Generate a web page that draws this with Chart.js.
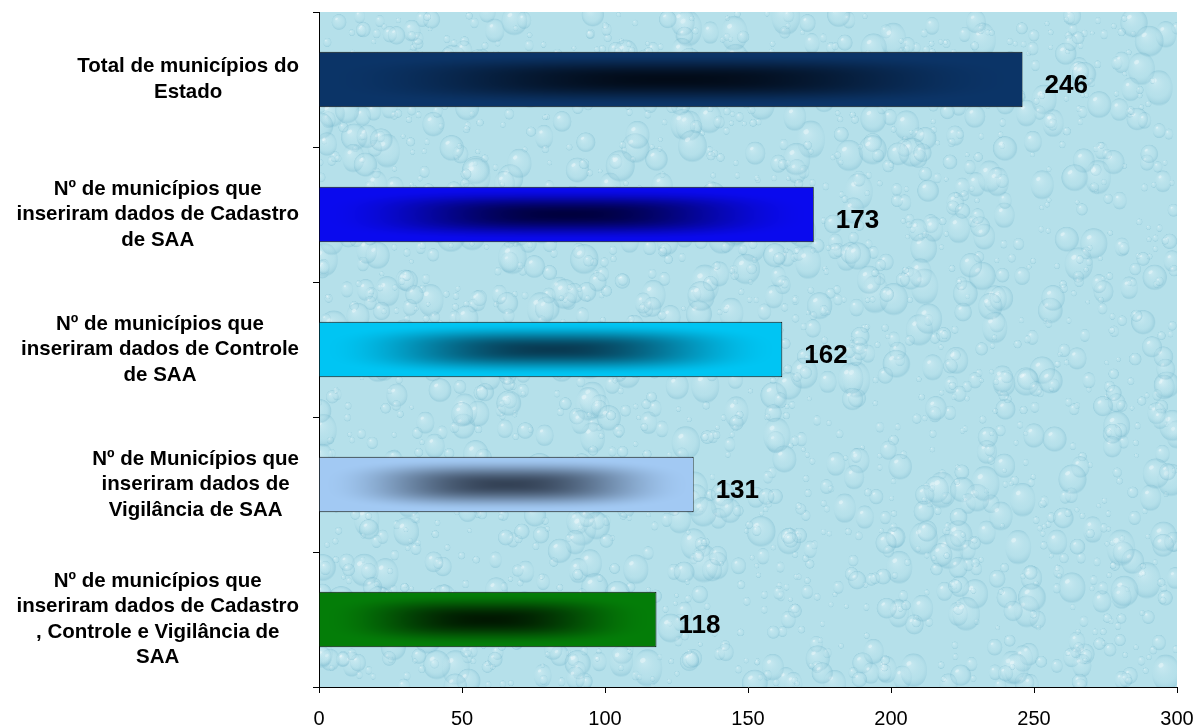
<!DOCTYPE html>
<html>
<head>
<meta charset="utf-8">
<script src="https://cdn.jsdelivr.net/npm/chart.js@4.4.1/dist/chart.umd.min.js"></script>
<style>
html,body{margin:0;padding:0;background:#ffffff;}
#wrap{width:1196px;height:728px;position:relative;}
</style>
</head>
<body>
<div id="wrap"><canvas id="c" width="1196" height="728"></canvas></div>
<script>
// ---- data ----
const categories = [
  ["Total de municípios do", "Estado"],
  ["Nº de municípios que", "inseriram dados de Cadastro", "de SAA"],
  ["Nº de municípios que", "inseriram dados de Controle", "de SAA"],
  ["Nº de Municípios que", "inseriram dados de", "Vigilância de SAA"],
  ["Nº de municípios que", "inseriram dados de Cadastro", ", Controle e Vigilância de", "SAA"]
];
const values = [246, 173, 162, 131, 118];
const xTicks = [0, 50, 100, 150, 200, 250, 300];
const barColors = ["#0b3467", "#0a0aee", "#00c5f3", "#a2c9f3", "#047d08"];
const centerColors = ["#020b18", "#00003e", "#083a52", "#344256", "#011801"];

// ---- helpers ----
function hexToRgb(h){h=h.replace('#','');return [parseInt(h.substr(0,2),16),parseInt(h.substr(2,2),16),parseInt(h.substr(4,2),16)];}
function hash(n){const s=Math.sin(n*127.1+311.7)*43758.5453;return s-Math.floor(s);}

const FONT = "'Liberation Sans', Arial, sans-serif";

const backgroundPlugin = {
  id:'waterBg',
  beforeDraw(chart){
    const {ctx, chartArea:a} = chart;
    ctx.save();
    ctx.beginPath(); ctx.rect(a.left, a.top, a.right-a.left, a.bottom-a.top); ctx.clip();
    ctx.fillStyle = '#b5e0ea';
    ctx.fillRect(a.left, a.top, a.right-a.left, a.bottom-a.top);
    const w = a.right-a.left, h = a.bottom-a.top;
    for(let i=0;i<2200;i++){
      const x = a.left + hash(i)*w;
      const y = a.top + hash(i+5000)*h;
      const r = 2.5 + Math.pow(hash(i+9000),2.5)*12;
      const ry = r*(1+hash(i+13000)*0.4);
      const g = ctx.createRadialGradient(x-r*0.3, y-ry*0.35, r*0.1, x, y, Math.max(r,ry));
      g.addColorStop(0,'rgba(228,246,250,0.38)');
      g.addColorStop(0.6,'rgba(185,225,235,0.15)');
      g.addColorStop(0.9,'rgba(115,180,202,0.32)');
      g.addColorStop(1,'rgba(115,180,202,0)');
      ctx.fillStyle = g;
      ctx.beginPath(); ctx.ellipse(x, y, r, ry, 0, 0, Math.PI*2); ctx.fill();
      ctx.fillStyle = 'rgba(255,255,255,0.35)';
      ctx.beginPath(); ctx.ellipse(x-r*0.35, y-ry*0.4, r*0.2, ry*0.12, -0.6, 0, Math.PI*2); ctx.fill();
    }
    ctx.restore();
  }
};

const barGradientPlugin = {
  id:'barGrad',
  afterDatasetsDraw(chart){
    const {ctx} = chart;
    const meta = chart.getDatasetMeta(0);
    meta.data.forEach((el, i) => {
      const left = Math.round(Math.min(el.base, el.x)) + 1;
      const right = Math.round(Math.max(el.base, el.x)) - 1;
      const top = Math.round(el.y - el.height/2) + 1;
      const bottom = Math.round(el.y + el.height/2) - 1;
      const W = right-left, H = bottom-top;
      if(W<=0||H<=0) return;
      const off = document.createElement('canvas');
      off.width = W; off.height = H;
      const octx = off.getContext('2d');
      const img = octx.createImageData(W, H);
      const b = hexToRgb(barColors[i]), c = hexToRgb(centerColors[i]);
      const hw = W/2, hh = H/2;
      for(let yy=0; yy<H; yy++){
        for(let xx=0; xx<W; xx++){
          const nx = Math.abs(xx+0.5-hw)/hw, ny = Math.abs(yy+0.5-hh)/hh;
          const t = Math.min(1, Math.pow(Math.pow(nx,3)+Math.pow(ny,3), 1/3));
          const f = Math.pow(1-t*t, 2.2);
          const k = (yy*W+xx)*4;
          img.data[k]   = b[0]+(c[0]-b[0])*f;
          img.data[k+1] = b[1]+(c[1]-b[1])*f;
          img.data[k+2] = b[2]+(c[2]-b[2])*f;
          img.data[k+3] = 255;
        }
      }
      octx.putImageData(img, 0, 0);
      ctx.drawImage(off, left, top);
    });
    // value labels
    ctx.save();
    ctx.fillStyle = '#000';
    ctx.font = "bold 26px " + FONT;
    ctx.textAlign = 'left';
    ctx.textBaseline = 'alphabetic';
    meta.data.forEach((el, i) => {
      ctx.fillText(String(values[i]), el.x + 22, el.y + 13);
    });
    ctx.restore();
  }
};

const categoryLabelPlugin = {
  id:'catLabels',
  afterDraw(chart){
    const {ctx} = chart;
    const yScale = chart.scales.y;
    ctx.save();
    ctx.fillStyle = '#000';
    ctx.font = "bold 20.5px " + FONT;
    ctx.textAlign = 'center';
    ctx.textBaseline = 'middle';
    const lh = 25.5, rightEdge = 299;
    categories.forEach((lines, i) => {
      const yc = yScale.getPixelForValue(i);
      const maxW = Math.max(...lines.map(l => ctx.measureText(l).width));
      const cx = rightEdge - maxW/2;
      const y0 = yc - (lines.length-1)*lh/2;
      lines.forEach((l, j) => ctx.fillText(l, cx, y0 + j*lh));
    });
    ctx.restore();
  }
};

new Chart(document.getElementById('c').getContext('2d'), {
  type:'bar',
  data:{
    labels: categories,
    datasets:[{
      data: values,
      backgroundColor: barColors,
      borderColor: '#101010',
      borderWidth: 1,
      barPercentage: 0.41,
      categoryPercentage: 1
    }]
  },
  options:{
    indexAxis:'y',
    responsive:false,
    animation:false,
    devicePixelRatio:1,
    layout:{autoPadding:false, padding:{left:0, right:19, top:12, bottom:0}},
    plugins:{legend:{display:false}, tooltip:{enabled:false}},
    scales:{
      x:{
        type:'linear', min:0, max:300,
        afterBuildTicks: s => { s.ticks = xTicks.map(v => ({value:v})); },
        ticks:{font:{family:FONT, size:20}, color:'#000', padding:14, maxRotation:0, autoSkip:false},
        grid:{drawOnChartArea:false, drawTicks:true, tickLength:6, color:'#000', lineWidth:1},
        border:{display:true, color:'#000', width:1},
        afterFit: s => { s.height = 41; s.paddingLeft = 0; s.paddingRight = 0; s.paddingTop = 0; s.paddingBottom = 0; }
      },
      y:{
        ticks:{display:false},
        grid:{drawOnChartArea:false, drawTicks:true, tickLength:6, color:'#000', lineWidth:1, offset:true},
        border:{display:true, color:'#000', width:1},
        afterFit: s => { s.width = 319; s.paddingTop = 0; s.paddingBottom = 0; }
      }
    }
  },
  plugins:[backgroundPlugin, barGradientPlugin, categoryLabelPlugin]
});
</script>
</body>
</html>
